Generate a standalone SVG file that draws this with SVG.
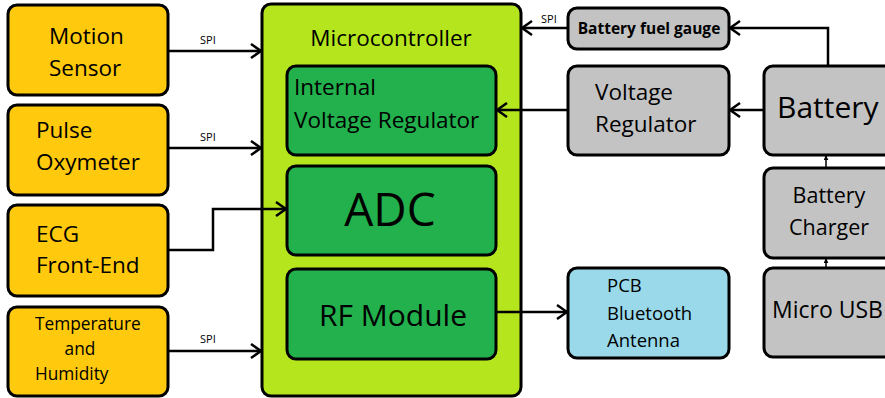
<svg xmlns="http://www.w3.org/2000/svg" width="885" height="398" viewBox="0 0 885 398">
<defs>
<marker id="ah" viewBox="0 0 12 16" refX="11" refY="8" markerWidth="12" markerHeight="16" markerUnits="userSpaceOnUse" orient="auto">
<path d="M1,1 L11,8 L1,15" fill="none" stroke="#000" stroke-width="2.5"/>
</marker>
<marker id="sm" viewBox="0 0 6 6" refX="5" refY="3" markerWidth="5" markerHeight="5" markerUnits="userSpaceOnUse" orient="auto">
<path d="M0,0 L6,3 L0,6 Z" fill="#000"/>
</marker>
</defs>
<style>
rect{stroke:#000;stroke-width:3}
.o{fill:#FFC90E}
.g{fill:#C3C3C3}
.lg{fill:#B5E61D}
.dg{fill:#22B14C}
.b{fill:#99D9EA}
text{font-family:"Open Sans","Liberation Sans",Arial,sans-serif;fill:#000}
.c line,.c path{stroke:#000;stroke-width:2.5;fill:none}
</style>
<g id="microcontroller">
<rect class="lg" x="262" y="4" width="259" height="392" rx="9"/>
<text x="391" y="46" font-size="22.5" text-anchor="middle">Microcontroller</text>
</g>
<g id="internal-vr">
<rect class="dg" x="287" y="66" width="209" height="89" rx="9"/>
<text x="294" y="95" font-size="22.5">Internal</text>
<text x="294" y="128" font-size="22.5">Voltage Regulator</text>
</g>
<g id="adc">
<rect class="dg" x="287" y="166" width="209" height="89" rx="9"/>
<text x="390" y="226" font-size="46" text-anchor="middle">ADC</text>
</g>
<g id="rf">
<rect class="dg" x="287" y="269" width="209" height="90" rx="9"/>
<text x="393" y="326" font-size="30" text-anchor="middle">RF Module</text>
</g>
<g id="motion">
<rect class="o" x="8" y="5" width="160" height="90" rx="9"/>
<text x="49" y="44" font-size="22.5">Motion</text>
<text x="49" y="76" font-size="22.5">Sensor</text>
</g>
<g id="pulse">
<rect class="o" x="8" y="105" width="160" height="90" rx="9"/>
<text x="36" y="138" font-size="22.5">Pulse</text>
<text x="36" y="170" font-size="22.5">Oxymeter</text>
</g>
<g id="ecg">
<rect class="o" x="8" y="205" width="160" height="91" rx="9"/>
<text x="36" y="242" font-size="22.5">ECG</text>
<text x="36" y="273" font-size="22.5">Front-End</text>
</g>
<g id="temp">
<rect class="o" x="8" y="307" width="160" height="89" rx="9"/>
<text x="35" y="330" font-size="17.3">Temperature</text>
<text x="80" y="355" font-size="17.3" text-anchor="middle">and</text>
<text x="35" y="380" font-size="17.3">Humidity</text>
</g>
<g id="fuel-gauge">
<rect class="g" x="568" y="8" width="161" height="41" rx="9"/>
<text x="649" y="34" font-size="15.5" font-weight="bold" text-anchor="middle">Battery fuel gauge</text>
</g>
<g id="voltage-regulator">
<rect class="g" x="568" y="66" width="161" height="89" rx="9"/>
<text x="595" y="100" font-size="22.5">Voltage</text>
<text x="595" y="132" font-size="22.5">Regulator</text>
</g>
<g id="battery">
<rect class="g" x="764" y="66" width="130" height="89" rx="9"/>
<text x="777" y="118" font-size="30">Battery</text>
</g>
<g id="charger">
<rect class="g" x="764" y="168" width="130" height="90" rx="9"/>
<text x="829" y="203" font-size="21.5" text-anchor="middle">Battery</text>
<text x="829" y="235" font-size="21.5" text-anchor="middle">Charger</text>
</g>
<g id="usb">
<rect class="g" x="764" y="268" width="130" height="89" rx="9"/>
<text x="772" y="318" font-size="23">Micro USB</text>
</g>
<g id="antenna">
<rect class="b" x="568" y="268" width="161" height="90" rx="9"/>
<text x="607" y="292" font-size="18.5">PCB</text>
<text x="607" y="320" font-size="18.5">Bluetooth</text>
<text x="607" y="347" font-size="18.5">Antenna</text>
</g>
<g id="connectors" class="c">
<line x1="168" y1="51" x2="261" y2="51" marker-end="url(#ah)"/>
<line x1="168" y1="148" x2="261" y2="148" marker-end="url(#ah)"/>
<path d="M168,250 H213 V209 H286" marker-end="url(#ah)"/>
<line x1="168" y1="351" x2="261" y2="351" marker-end="url(#ah)"/>
<line x1="568" y1="28" x2="522" y2="28" marker-end="url(#ah)"/>
<path d="M828,66 V28 H730" marker-end="url(#ah)"/>
<line x1="568" y1="110" x2="497" y2="110" marker-end="url(#ah)"/>
<line x1="764" y1="110" x2="730" y2="110" marker-end="url(#ah)"/>
<line x1="496" y1="312" x2="567" y2="312" marker-end="url(#ah)"/>
<line x1="826" y1="168" x2="826" y2="156" marker-end="url(#sm)" style="stroke-width:1.5"/>
<line x1="826" y1="268" x2="826" y2="259" marker-end="url(#sm)" style="stroke-width:1.5"/>
</g>
<g id="labels">
<text x="200" y="44" font-size="11">SPI</text>
<text x="200" y="141" font-size="11">SPI</text>
<text x="200" y="343" font-size="11">SPI</text>
<text x="541" y="23" font-size="11">SPI</text>
</g>
</svg>
